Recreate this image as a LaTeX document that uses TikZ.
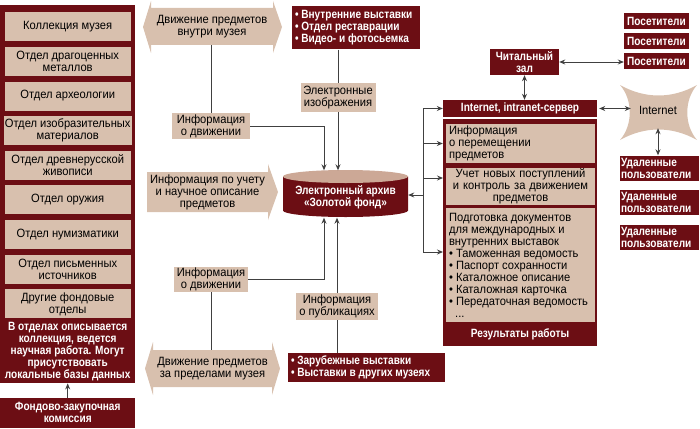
\documentclass[tikz,border=0pt]{standalone}
\usepackage{fontspec}
\setmainfont{Liberation Sans}[FakeStretch=0.93, BoldFeatures={FakeStretch=0.84}]
\usetikzlibrary{arrows.meta, positioning}
\definecolor{museumred}{RGB}{108,14,20}
\definecolor{museumtan}{RGB}{216,192,174}
\definecolor{disktop}{RGB}{204,168,150}

\begin{document}
\begin{tikzpicture}[
    x=1pt, y=1pt,
    node distance=5.25pt,
    font=\fontsize{12}{12}\selectfont,
    darkbox/.style = {rectangle, fill=museumred, text=white, inner sep=1pt, font=\fontsize{12}{12}\selectfont\bfseries},
    tanbox/.style = {rectangle, fill=museumtan, inner sep=1pt, align=center},
    deptbox/.style = {tanbox, minimum width=126pt, minimum height=29pt},
    resbox/.style = {tanbox, inner xsep=3pt, text width=143pt, align=flush left},
    link/.style = {draw=black!75, line width=0.9pt},
    >={Stealth[length=6pt, width=5pt]}]

    \useasboundingbox (0,0) rectangle (700,-428);

    % departments of the museum
    \node[darkbox, minimum width=135pt, minimum height=378pt, anchor=north west] (depts) at (0,-5) {};
    \node[deptbox, below=7pt of depts.north] (d1) {Коллекция музея};
    \node[deptbox, below=of d1] (d2) {Отдел драгоценных\\ металлов};
    \node[deptbox, below=of d2] (d3) {Отдел археологии};
    \node[deptbox, below=of d3] (d4) {Отдел изобразительных\\ материалов};
    \node[deptbox, below=of d4] (d5) {Отдел древнерусской\\ живописи};
    \node[deptbox, below=of d5] (d6) {Отдел оружия};
    \node[deptbox, below=of d6] (d7) {Отдел нумизматики};
    \node[deptbox, below=of d7] (d8) {Отдел письменных\\ источников};
    \node[deptbox, below=of d8] (d9) {Другие фондовые\\ отделы};
    \node[darkbox, align=center, below=2pt of d9] (deptNote) {В отделах описывается\\ коллекция, ведется\\ научная работа. Могут\\ присутствовать\\ локальные базы данных};
    \node[darkbox, minimum width=135pt, minimum height=30pt, align=center, anchor=south west] (commission) at (0,-428) {Фондово-закупочная\\ комиссия};

    % movement shapes
    \fill[museumtan] (143,-27) -- (151,-1) -- (151,-8) -- (273,-8) -- (273,-1) -- (282,-27) -- (273,-53) -- (273,-45) -- (151,-45) -- (151,-53) -- cycle;
    \node[minimum width=122pt, minimum height=37pt, align=center] (mvIn) at (212,-26.5) {Движение предметов\\ внутри музея};
    \fill[museumtan] (145,-368.5) -- (153,-342) -- (153,-350) -- (272,-350) -- (272,-342) -- (280,-368.5) -- (272,-395) -- (272,-387) -- (153,-387) -- (153,-395) -- cycle;
    \node[minimum width=119pt, minimum height=37pt, align=center] (mvOut) at (212.5,-368.5) {Движение предметов\\ за пределами музея};
    \fill[museumtan] (147,-172) -- (268,-172) -- (268,-164) -- (278,-192) -- (268,-220) -- (268,-212) -- (147,-212) -- cycle;
    \node[minimum width=121pt, minimum height=40pt, align=center] (accInfo) at (207.5,-192) {Информация по учету\\ и научное описание\\ предметов};

    \node[tanbox, minimum width=78pt, minimum height=24pt] (moveInfoA) at (211,-126) {Информация\\ о движении};
    \node[tanbox, minimum width=74pt, minimum height=25pt] (moveInfoB) at (211,-279.5) {Информация\\ о движении};

    % archive
    \fill[museumred] (283,-176.5) -- (283,-210.5) arc[start angle=180, end angle=360, x radius=62.5, y radius=6.5] -- (408,-176.5) -- cycle;
    \fill[disktop] (345.5,-176.5) ellipse[x radius=62.5, y radius=6.5];
    \node[darkbox, fill=none, minimum width=125pt, minimum height=47pt, align=center] (archive) at (345.5,-194) {};
    \node[darkbox, fill=none, align=center] (archiveText) at (345.5,-197) {Электронный архив\\ «Золотой фонд»};

    \node[darkbox, text width=122pt, minimum height=43pt, align=flush left, inner xsep=3pt] (inner) at (356,-28) {• Внутренние выставки\\ • Отдел реставрации\\ • Видео- и фотосьемка};
    \node[tanbox, minimum width=75pt, minimum height=29pt] (imgInfo) at (338,-97.5) {Электронные\\ изображения};
    \node[tanbox, minimum width=82pt, minimum height=27pt] (pubInfo) at (337,-306.5) {Информация\\ о публикациях};
    \node[darkbox, text width=151pt, minimum height=29pt, align=flush left, inner xsep=3pt] (outer) at (366.5,-367.5) {• Зарубежные выставки\\ • Выставки в других музеях};

    % server and results
    \node[darkbox, minimum width=154pt, minimum height=17pt] (server) at (520,-108.5) {Internet, intranet-сервер};
    \node[darkbox, minimum width=154pt, minimum height=227pt, anchor=north] (results) at (520,-119) {};
    \node[resbox, minimum height=39pt] (resA) at (520.5,-143.5) {Информация\\ о перемещении\\ предметов};
    \node[resbox, minimum height=37pt, align=center] (resB) at (520.5,-186.5) {Учет новых поступлений\\ и контроль за движением\\ предметов};
    \node[resbox, minimum height=114pt] (resC) at (520.5,-265) {Подготовка документов\\ для международных и\\ внутренних выставок\\ • Таможенная ведомость\\ • Паспорт сохранности\\ • Каталожное описание\\ • Каталожная карточка\\ • Передаточная ведомость\\ \ \ ...};
    \node[darkbox] (resLabel) at (520,-334) {Результаты работы};

    \node[darkbox, minimum width=69pt, minimum height=26pt, align=center] (room) at (524.5,-62) {Читальный\\ зал};
    \node[darkbox, minimum width=65pt, minimum height=16pt] (vis1) at (656.5,-21.5) {Посетители};
    \node[darkbox, minimum width=65pt, minimum height=16pt, below=3.5pt of vis1] (vis2) {Посетители};
    \node[darkbox, minimum width=65pt, minimum height=16pt, below=3.5pt of vis2] (vis3) {Посетители};

    \fill[museumtan] (620,-85) .. controls (645,-99) and (672,-99) .. (697,-85) .. controls (684,-100) and (684,-125) .. (697,-140) .. controls (672,-126) and (645,-126) .. (620,-140) .. controls (633,-125) and (633,-100) .. cycle;
    \node[minimum width=54pt, minimum height=36pt] (inet) at (658,-110) {Internet};
    \node[darkbox, text width=77pt, minimum height=25pt, align=flush left] (rem1) at (659.5,-168) {Удаленные\\ пользователи};
    \node[darkbox, text width=77pt, minimum height=25pt, align=flush left, below=9.5pt of rem1] (rem2) {Удаленные\\ пользователи};
    \node[darkbox, text width=77pt, minimum height=25pt, align=flush left, below=9.5pt of rem2] (rem3) {Удаленные\\ пользователи};

    % connections
    \draw[link, ->] (commission.north) -- (depts.south);
    \draw[link] (moveInfoA.north |- mvIn.south) -- (moveInfoA.north);
    \draw[link, ->] (moveInfoA.east) -| ([xshift=-21.5pt]archive.north);
    \draw[link] (inner.south -| imgInfo) -- (imgInfo.north);
    \draw[link, ->] (imgInfo.south) -- (imgInfo.south |- archive.north);
    \draw[link, ->] (moveInfoB.east) -| ([xshift=-21.5pt]archive.south);
    \draw[link] (moveInfoB.south) -- (moveInfoB.south |- mvOut.north);
    \draw[link, ->] (pubInfo.north) -- (pubInfo.north |- archive.south);
    \draw[link] (outer.north -| pubInfo) -- (pubInfo.south);

    \coordinate (busTop) at (423,-108.5);
    \coordinate (busBot) at (423,-252);
    \coordinate (busArc) at (423,-195);
    \coordinate (inB) at (443,-178);
    \coordinate (inC) at (443,-252);
    \draw[link] (busTop) -- (busBot);
    \draw[link, ->] (busTop) -- (server.west);
    \draw[link, ->] (busTop |- resA.west) -- (resA.west -| results.west);
    \draw[link, ->] (inB -| busTop) -- (inB);
    \draw[link, ->] (busBot) -- (inC);
    \draw[link, ->] (busArc) -- (archive.east |- busArc);

    \draw[link, <->] (room.south) -- (room.south |- server.north);
    \draw[link, <->] (room.east) -- (vis3.west |- room.east);
    \draw[link, <->] ([xshift=2pt]server.east) -- (inet.west |- server.east);
    \draw[link, <->] (inet.south) -- (inet.south |- rem1.north);
\end{tikzpicture}
\end{document}
